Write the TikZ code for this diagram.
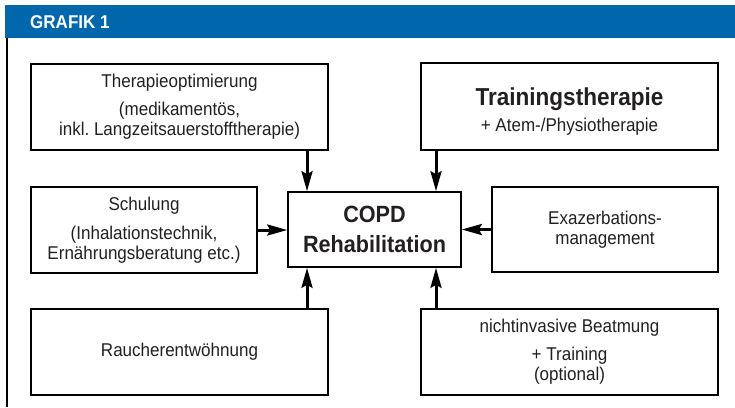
\documentclass[tikz,border=0pt]{standalone}
\usepackage{fontspec}
\setmainfont{Liberation Sans}[FakeStretch=0.92]
\usetikzlibrary{arrows.meta}
\definecolor{grafikblue}{RGB}{0,103,172}
\definecolor{textgray}{RGB}{35,31,32}
\frenchspacing

\begin{document}
\begin{tikzpicture}[x=1pt,y=-1pt,
    box/.style={draw=black,line width=1.6pt,align=center,text=textgray,
      font=\fontsize{18.5}{20}\selectfont,inner sep=0pt},
    arr/.style={line width=3pt,-{Stealth[length=20pt,width=11pt,inset=3pt]}}]
            \useasboundingbox (0,0) rectangle (735,407);
            \fill[grafikblue] (5,5) rectangle (735,38);
            \draw[line width=2pt] (7,38) -- (7,407);
            \node[anchor=west,inner sep=0pt,text=white,font=\bfseries\fontsize{18.5}{20}\selectfont] (title) at (30,22) {GRAFIK 1};

            \node[box,minimum width=297pt,minimum height=86pt] (ther) at (179.5,107)
                {Therapieoptimierung\\[8pt](medikamentös,\\inkl. Langzeitsauerstofftherapie)};
            \node[box,minimum width=297pt,minimum height=87pt] (train) at (569.5,106.5)
                {{\bfseries\fontsize{24.5}{26}\selectfont\rule{0pt}{27pt}Trainingstherapie}\\[6pt]+ Atem-/Physiotherapie};
            \node[box,minimum width=226pt,minimum height=86pt] (schul) at (144,230)
                {Schulung\\[9pt](Inhalationstechnik,\\Ernährungsberatung etc.)};
            \node[box,minimum width=173pt,minimum height=75pt,
                font=\bfseries\fontsize{23.5}{30}\selectfont] (copd) at (374.5,229.5)
                {COPD\\Rehabilitation};
            \node[box,minimum width=226pt,minimum height=85pt] (exaz) at (605,229.5)
                {Exazerbations-\\management};
            \node[box,minimum width=297pt,minimum height=86pt] (raucher) at (179.5,352)
                {Raucherentwöhnung};
            \node[box,minimum width=297pt,minimum height=86pt] (nicht) at (569.5,352)
                {nichtinvasive Beatmung\\[8pt]+ Training\\(optional)};

            \coordinate (lcol) at (307,0);
            \coordinate (rcol) at (436,0);
            \draw[arr] (ther.south -| lcol) -- (copd.north -| lcol);
            \draw[arr] (train.south -| rcol) -- (copd.north -| rcol);
            \draw[arr] (raucher.north -| lcol) -- (copd.south -| lcol);
            \draw[arr] (nicht.north -| rcol) -- (copd.south -| rcol);
            \draw[arr] (schul.east) -- (copd.west |- schul.east);
            \draw[arr] (exaz.west) -- (copd.east |- exaz.west);
        \end{tikzpicture}
\end{document}
